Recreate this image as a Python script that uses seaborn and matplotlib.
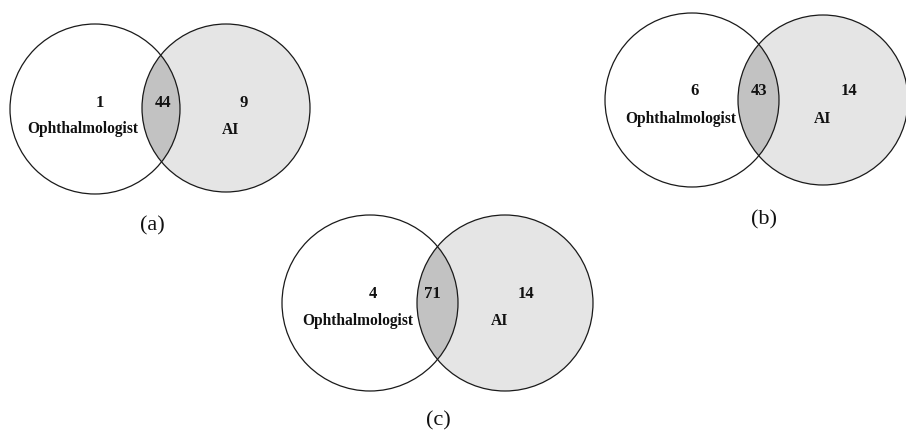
import numpy as np
import matplotlib
matplotlib.use('Agg')
import matplotlib.pyplot as plt
from matplotlib.patches import Circle
import seaborn as sns

# counts
panels = ['(a)', '(b)', '(c)']
ophthalmologist_only = [1, 6, 4]
both = [44, 43, 71]
ai_only = [9, 14, 14]
set_labels = ['Ophthalmologist', 'AI']

# layout in pixel coords (x right, y down)
left_centers = [(95, 109), (692, 100), (370, 303)]
right_centers = [(226, 108), (823, 100), (505, 303)]
radii = [(85, 84), (87, 85), (88, 88)]
count_pos = [[(100, 107), (163, 107), (244, 107)],
             [(695, 95), (759, 95), (849, 95)],
             [(373, 298), (432, 298), (526, 298)]]
name_pos = [[(83, 133), (231, 134)],
            [(681, 123), (823, 123)],
            [(358, 325), (500, 325)]]
panel_pos = [(152, 230), (764, 224), (438, 425)]

sns.set_theme(style='white')
plt.rcParams['font.family'] = ['Liberation Serif', 'DejaVu Serif']

edge = '#1a1a1a'
right_fill = '#e5e5e5'
overlap_fill = '#c2c2c2'

fig = plt.figure(figsize=(9.06, 4.30), dpi=100)
ax = fig.add_axes([0, 0, 1, 1])
ax.set_xlim(0, 906)
ax.set_ylim(430, 0)
ax.axis('off')

for i, name in enumerate(panels):
    r_left, r_right = radii[i]
    right = Circle(right_centers[i], r_right, facecolor=right_fill, edgecolor='none', zorder=1)
    ax.add_patch(right)
    # overlap: left circle clipped by the right one
    lens = Circle(left_centers[i], r_left, facecolor=overlap_fill, edgecolor='none', zorder=2)
    ax.add_patch(lens)
    lens.set_clip_path(right)
    for c, r in [(left_centers[i], r_left), (right_centers[i], r_right)]:
        ax.add_patch(Circle(c, r, facecolor='none', edgecolor=edge, lw=0.9, zorder=3))

    vals = [ophthalmologist_only[i], both[i], ai_only[i]]
    for v, (x, y) in zip(vals, count_pos[i]):
        ax.text(x, y, str(v), ha='center', va='baseline', fontsize=12,
                fontweight='bold', color='#111111', zorder=4)
    for lab, (x, y) in zip(set_labels, name_pos[i]):
        ax.text(x, y, lab, ha='center', va='baseline', fontsize=11.2,
                fontweight='bold', color='#111111', zorder=4)
    ax.text(panel_pos[i][0], panel_pos[i][1], name, ha='center', va='baseline',
            fontsize=16, color='#111111', zorder=4)

fig.savefig('out.png', dpi=100)
